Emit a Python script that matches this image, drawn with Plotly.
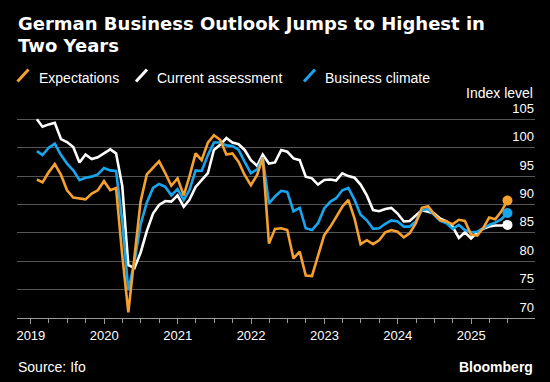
import pandas as pd
import plotly.graph_objects as go

# ---------------- data ----------------
months = pd.date_range("2019-01-31", periods=78, freq="ME")

expectations = [94.4, 93.9, 95.7, 97.1, 95.2, 92.5, 91.2, 91.0, 90.9, 91.9, 92.5, 94.1,
                92.5, 92.9, 81.0, 71.0, 81.0, 90.5, 95.3, 96.4, 97.6, 95.5, 93.3, 94.6,
                91.6, 94.9, 99.0, 97.8, 100.9, 102.2, 101.4, 98.8, 99.0, 97.5, 95.2, 93.4,
                95.2, 98.2, 83.1, 85.7, 85.8, 85.5, 80.5, 81.7, 77.5, 77.4, 81.1, 84.6,
                86.1, 87.7, 89.6, 90.8, 87.5, 83.0, 83.7, 83.0, 83.7, 85.1, 85.5, 85.2,
                84.2, 84.9, 86.7, 89.4, 89.7, 88.3, 87.2, 87.0, 86.5, 87.3, 87.1, 84.7,
                84.5, 85.8, 87.7, 87.4, 88.8, 90.7]

climate = [99.4, 98.7, 100.0, 100.7, 98.7, 97.2, 96.0, 94.3, 94.7, 94.9, 95.3, 96.4,
           96.0, 95.9, 87.0, 74.9, 80.0, 86.5, 90.3, 92.9, 93.6, 93.1, 91.6, 92.7,
           90.8, 92.5, 96.0, 95.9, 98.7, 100.9, 100.9, 100.4, 100.3, 99.6, 97.5, 95.5,
           96.2, 98.2, 90.2, 91.4, 92.4, 92.2, 88.8, 89.4, 85.8, 85.5, 86.7, 89.3,
           90.5, 91.1, 92.5, 92.9, 90.8, 88.2, 87.2, 85.7, 85.8, 86.6, 87.2, 87.0,
           86.1, 86.1, 87.0, 89.0, 89.2, 88.2, 87.1, 86.7, 85.7, 86.4, 85.5, 85.1,
           85.2, 85.8, 86.4, 86.8, 87.4, 88.5]

current = [105.0, 103.7, 104.1, 104.4, 101.5, 101.0, 100.1, 97.4, 98.8, 98.0, 98.3, 99.0,
           99.7, 99.0, 93.2, 79.3, 78.8, 81.5, 85.3, 88.4, 89.9, 90.6, 90.5, 91.6,
           89.6, 90.8, 93.1, 94.3, 95.5, 99.6, 100.5, 101.7, 100.9, 100.6, 99.6, 97.8,
           96.8, 98.8, 97.2, 97.4, 99.6, 99.3, 98.1, 97.8, 94.9, 94.6, 93.5, 94.3,
           94.4, 94.2, 95.5, 95.0, 94.7, 93.5, 91.6, 89.0, 88.8, 89.2, 89.4, 88.4,
           87.0, 87.1, 88.0, 89.0, 88.7, 88.4, 87.5, 87.0, 86.1, 84.1, 85.1, 84.0,
           85.1, 85.7, 86.1, 86.3, 86.3, 86.4]

series_names = ["Expectations", "Current assessment", "Business climate"]
y_ticks = [70, 75, 80, 85, 90, 95, 100, 105]
title_lines = ["German Business Outlook Jumps to Highest in", "Two Years"]

# ---------------- style ----------------
ORANGE = "#F5A02F"
WHITE = "#FFFFFF"
BLUE = "#17A5EE"
colors = {"Expectations": ORANGE, "Current assessment": WHITE, "Business climate": BLUE}
values = {"Expectations": expectations, "Current assessment": current, "Business climate": climate}

W, H = 550, 382
ML, MR, MT, MB = 17, 15, 98, 64
PW, PH = W - ML - MR, H - MT - MB
Y_TOP = 108.75  # extra headroom so the top tick label (drawn above its gridline) stays visible


def px_x(x):
    return (x - ML) / PW


def px_y(y):
    return (H - MB - y) / PH


fig = go.Figure()

for name in ["Current assessment", "Business climate", "Expectations"]:
    fig.add_trace(go.Scatter(x=months, y=values[name], mode="lines", name=name,
                             line=dict(color=colors[name], width=2.6), showlegend=False,
                             hoverinfo="skip"))
for name in ["Current assessment", "Business climate", "Expectations"]:
    fig.add_trace(go.Scatter(x=[months[-1]], y=[values[name][-1]], mode="markers",
                             marker=dict(color=colors[name], size=10), showlegend=False,
                             hoverinfo="skip"))

TXT = "Liberation Sans, Arial, sans-serif"
TITLE_FONT = dict(family="DejaVu Sans, Verdana, sans-serif", size=18, color="#FFFFFF")

annotations = []
for line, yc in zip(title_lines, [23, 45.5]):
    annotations.append(dict(text="<b>" + line + "</b>", xref="paper", yref="paper",
                            x=px_x(16), y=px_y(yc), xanchor="left", yanchor="middle",
                            showarrow=False, font=TITLE_FONT))

annotations += [
    dict(text="Index level", xref="paper", yref="paper", x=1, y=px_y(92.5),
         xanchor="right", yanchor="middle", showarrow=False,
         font=dict(family=TXT, size=14, color="#FFFFFF")),
    dict(text="Source: Ifo", xref="paper", yref="paper", x=px_x(16), y=px_y(367),
         xanchor="left", yanchor="middle", showarrow=False,
         font=dict(family=TXT, size=14, color="#FFFFFF")),
    dict(text="<b>Bloomberg</b>", xref="paper", yref="paper", x=1, y=px_y(367),
         xanchor="right", yanchor="middle", showarrow=False,
         font=dict(family=TXT, size=14, color="#FFFFFF")),
]

shapes = []
legend_icon_x = [17.5, 136, 304]
legend_text_x = [36.5, 155, 322.5]
for name, ix, tx in zip(series_names, legend_icon_x, legend_text_x):
    shapes.append(dict(type="line", xref="paper", yref="paper",
                       x0=px_x(ix), y0=px_y(81.5), x1=px_x(ix + 11), y1=px_y(69.5),
                       line=dict(color=colors[name], width=3)))
    annotations.append(dict(text=name, xref="paper", yref="paper", x=px_x(tx), y=px_y(78),
                            xanchor="left", yanchor="middle", showarrow=False,
                            font=dict(family=TXT, size=14, color="#FFFFFF")))

fig.update_layout(
    width=W, height=H,
    margin=dict(l=ML, r=MR, t=MT, b=MB, autoexpand=False),
    paper_bgcolor="#000000", plot_bgcolor="#000000",
    showlegend=False,
    annotations=annotations,
    shapes=shapes,
    xaxis=dict(
        type="date", automargin=False,
        range=["2018-10-24", "2025-11-14"],
        tick0="2019-01-01", dtick="M12", tickformat="%Y",
        ticks="outside", ticklen=5, tickcolor="#9a9a9a", tickwidth=1,
        showgrid=False, showline=True, linecolor="#9a9a9a", linewidth=1,
        tickfont=dict(family=TXT, size=13, color="#FFFFFF"),
        minor=dict(dtick="M3", ticks="outside", ticklen=4, tickcolor="#9a9a9a", showgrid=False),
        zeroline=False, fixedrange=True,
    ),
    yaxis=dict(
        range=[70, Y_TOP], tickvals=y_ticks, side="right", automargin=False,
        ticklabelposition="inside", ticklabelshift=-11, ticklabelstandoff=-2,
        showgrid=True, gridcolor="#555555", gridwidth=1,
        zeroline=False, showline=False, ticks="",
        tickfont=dict(family=TXT, size=13, color="#FFFFFF"),
        fixedrange=True,
    ),
)

fig.write_html("out.html", config={"displayModeBar": False, "staticPlot": True},
               post_script="document.body.style.margin='0';document.documentElement.style.margin='0';")
